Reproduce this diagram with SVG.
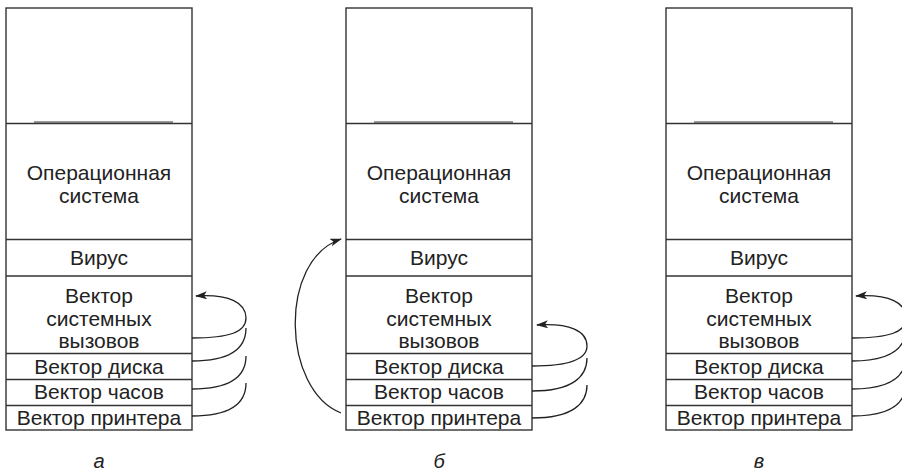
<svg xmlns="http://www.w3.org/2000/svg" width="902" height="474" viewBox="0 0 902 474">
<style>
.box{fill:#fff;stroke:#333;stroke-width:1.4}
.sep{stroke:#333;stroke-width:1.4}
.gray{stroke:#777;stroke-width:1.6}
.t{font-family:"Liberation Sans",Arial,sans-serif;font-size:21px;fill:#222;text-anchor:middle}
.cap{font-family:"Liberation Sans",Arial,sans-serif;font-size:20px;font-style:italic;fill:#222;text-anchor:middle}
.c{fill:none;stroke:#222;stroke-width:1.3}
</style>
<defs>
<marker id="ah" viewBox="0 0 12 8" refX="11" refY="4" markerWidth="12" markerHeight="8" markerUnits="userSpaceOnUse" orient="auto">
<path d="M0,0 L12,4 L0,8 L3,4 z" fill="#222"/>
</marker>
<g id="stack">
<rect class="box" x="0" y="8" width="186" height="422"/>
<line class="gray" x1="28" y1="122" x2="167" y2="122"/>
<line class="sep" x1="0" y1="123.5" x2="186" y2="123.5"/>
<line class="sep" x1="0" y1="239.5" x2="186" y2="239.5"/>
<line class="sep" x1="0" y1="276" x2="186" y2="276"/>
<line class="sep" x1="0" y1="353.5" x2="186" y2="353.5"/>
<line class="sep" x1="0" y1="379.5" x2="186" y2="379.5"/>
<line class="sep" x1="0" y1="405.5" x2="186" y2="405.5"/>
<text class="t" x="93" y="180">Операционная</text>
<text class="t" x="93" y="203">система</text>
<text class="t" x="93" y="265">Вирус</text>
<text class="t" x="93" y="303">Вектор</text>
<text class="t" x="93" y="326">системных</text>
<text class="t" x="93" y="348">вызовов</text>
<text class="t" x="93" y="374">Вектор диска</text>
<text class="t" x="93" y="399">Вектор часов</text>
<text class="t" x="93" y="425">Вектор принтера</text>
</g>
</defs>
<g id="panel-a"><use href="#stack" x="6" y="0"/></g>
<g id="panel-b"><use href="#stack" x="346" y="0"/></g>
<g id="panel-c"><use href="#stack" x="666" y="0"/></g>
<g id="labels">
<text class="cap" x="99" y="468">а</text>
<text class="cap" x="439" y="468">б</text>
<text class="cap" x="759" y="468">в</text>
</g>
<g id="connectors">
<path class="c" d="M192,338 C230,338 246,332 246,318 C246,303 230,294 196,296" marker-end="url(#ah)"/>
<path class="c" d="M192,361 C232,361 246,347 246,328"/>
<path class="c" d="M192,389 C232,389 246,375 246,356"/>
<path class="c" d="M192,416 C232,416 246,402 246,383"/>
<path class="c" d="M532,366 C570,366 587,359 587,346 C587,331 570,323 537,325" marker-end="url(#ah)"/>
<path class="c" d="M532,391 C572,391 587,377 587,358"/>
<path class="c" d="M532,418 C572,418 587,404 587,385"/>
<path class="c" d="M341,413 C282,390 278,260 341,239" marker-end="url(#ah)"/>
<path class="c" d="M852,338 C890,338 906,332 906,318 C906,303 890,294 856,296" marker-end="url(#ah)"/>
<path class="c" d="M852,361 C892,361 906,347 906,328"/>
<path class="c" d="M852,389 C892,389 906,375 906,356"/>
<path class="c" d="M852,416 C892,416 906,402 906,383"/>
</g>
</svg>
